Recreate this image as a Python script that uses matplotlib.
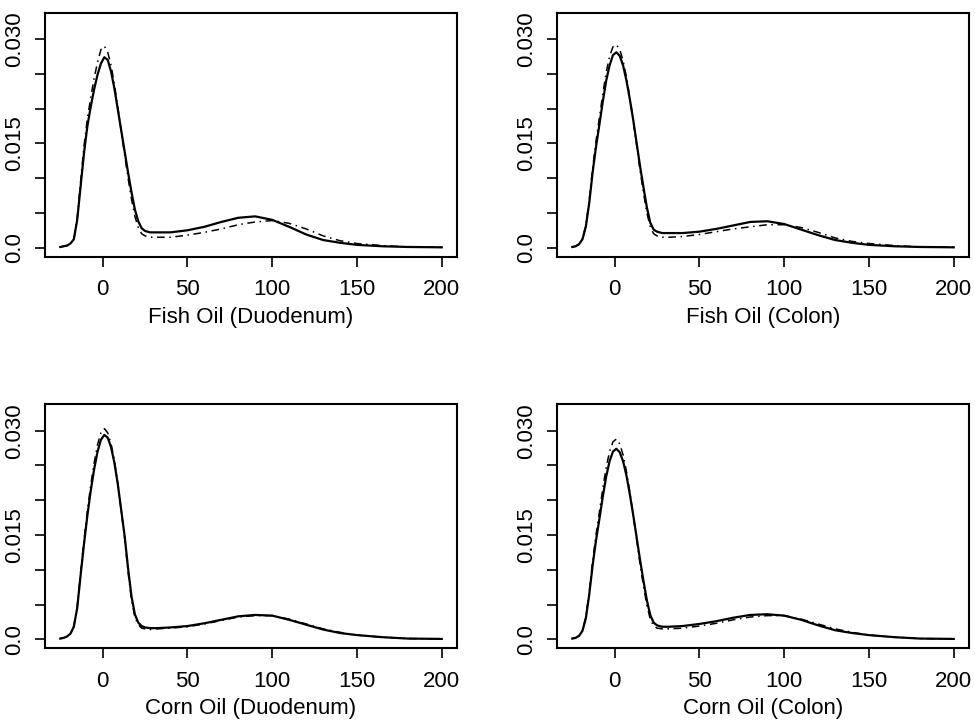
import matplotlib
matplotlib.use("Agg")
import matplotlib.pyplot as plt
from matplotlib.ticker import FixedLocator, FixedFormatter

plt.rcParams["font.family"] = ["Liberation Sans", "DejaVu Sans"]

x = [-25, -23, -21, -19, -17, -15, -13, -11, -9, -7, -5, -3, -1, 1, 3, 5, 7, 9, 11, 13,
     15, 17, 19, 21, 23, 25, 28, 32, 40, 50, 60, 70, 80, 90, 100, 110, 120, 130, 140,
     150, 165, 180, 200]

# Fish Oil (Duodenum)
fod_solid = [0.0001, 0.0002, 0.0003, 0.0006, 0.0012, 0.0040, 0.0088, 0.0136, 0.0175, 0.0203,
             0.0228, 0.0249, 0.0265, 0.0274, 0.0270, 0.0253, 0.0228, 0.0198, 0.0168, 0.0138,
             0.0108, 0.0080, 0.0055, 0.0038, 0.0028, 0.0024, 0.0022, 0.0022, 0.0022, 0.0025,
             0.0030, 0.0037, 0.0043, 0.0045, 0.0040, 0.0030, 0.0019, 0.0011, 0.0007, 0.0004,
             0.0002, 0.0001, 0.00005]
fod_dash = [0.0001, 0.0002, 0.0003, 0.0006, 0.0011, 0.0043, 0.0095, 0.0146, 0.0186, 0.0216,
            0.0244, 0.0267, 0.0285, 0.0290, 0.0281, 0.0262, 0.0234, 0.0201, 0.0167, 0.0133,
            0.0100, 0.0070, 0.0045, 0.0029, 0.0020, 0.0017, 0.0015, 0.0015, 0.0015, 0.0018,
            0.0022, 0.0027, 0.0033, 0.0037, 0.0039, 0.0035, 0.0027, 0.0017, 0.0010, 0.0006,
            0.0003, 0.0001, 0.00005]

# Fish Oil (Colon)
foc_solid = [0.0001, 0.0002, 0.0005, 0.0012, 0.0030, 0.0064, 0.0108, 0.0145, 0.0177, 0.0210,
             0.0240, 0.0262, 0.0277, 0.0281, 0.0276, 0.0262, 0.0240, 0.0213, 0.0183, 0.0150,
             0.0117, 0.0087, 0.0058, 0.0036, 0.0026, 0.0023, 0.0021, 0.0021, 0.0021, 0.0023,
             0.0027, 0.0032, 0.0037, 0.0038, 0.0034, 0.0026, 0.0018, 0.0011, 0.0007, 0.0004,
             0.0002, 0.0001, 0.00005]
foc_dash = [0.0001, 0.0002, 0.0005, 0.0013, 0.0032, 0.0068, 0.0114, 0.0153, 0.0187, 0.0221,
            0.0252, 0.0275, 0.0289, 0.0292, 0.0285, 0.0269, 0.0245, 0.0215, 0.0182, 0.0147,
            0.0111, 0.0079, 0.0050, 0.0030, 0.0020, 0.0017, 0.0015, 0.0015, 0.0016, 0.0019,
            0.0023, 0.0027, 0.0030, 0.0033, 0.0033, 0.0029, 0.0022, 0.0014, 0.0009, 0.0006,
            0.0003, 0.0001, 0.00005]

# Corn Oil (Duodenum)
cod_solid = [0.0001, 0.0002, 0.0004, 0.0008, 0.0018, 0.0045, 0.0092, 0.0137, 0.0178, 0.0214,
             0.0245, 0.0270, 0.0287, 0.0294, 0.0290, 0.0276, 0.0253, 0.0222, 0.0185, 0.0148,
             0.0102, 0.0062, 0.0036, 0.0024, 0.0019, 0.0017, 0.0016, 0.0016, 0.0017, 0.0019,
             0.0023, 0.0028, 0.0033, 0.0035, 0.0034, 0.0028, 0.0021, 0.0014, 0.0009, 0.0006,
             0.0003, 0.0001, 0.00005]
cod_dash = [0.0001, 0.0002, 0.0004, 0.0008, 0.0019, 0.0047, 0.0096, 0.0143, 0.0185, 0.0222,
            0.0254, 0.0280, 0.0297, 0.0303, 0.0297, 0.0281, 0.0256, 0.0223, 0.0184, 0.0145,
            0.0097, 0.0057, 0.0032, 0.0021, 0.0016, 0.0015, 0.0014, 0.0015, 0.0016, 0.0018,
            0.0022, 0.0027, 0.0032, 0.0034, 0.0034, 0.0029, 0.0022, 0.0015, 0.0010, 0.0006,
            0.0003, 0.0001, 0.00005]

# Corn Oil (Colon)
coc_solid = [0.0001, 0.0002, 0.0005, 0.0012, 0.0030, 0.0064, 0.0106, 0.0142, 0.0173, 0.0205,
             0.0234, 0.0256, 0.0270, 0.0274, 0.0269, 0.0256, 0.0235, 0.0208, 0.0178, 0.0146,
             0.0114, 0.0084, 0.0056, 0.0035, 0.0024, 0.0020, 0.0018, 0.0018, 0.0019, 0.0022,
             0.0026, 0.0031, 0.0035, 0.0036, 0.0034, 0.0028, 0.0020, 0.0013, 0.0009, 0.0006,
             0.0003, 0.0001, 0.00005]
coc_dash = [0.0001, 0.0002, 0.0005, 0.0013, 0.0032, 0.0068, 0.0112, 0.0150, 0.0183, 0.0217,
            0.0247, 0.0270, 0.0284, 0.0288, 0.0281, 0.0265, 0.0241, 0.0211, 0.0178, 0.0143,
            0.0108, 0.0077, 0.0049, 0.0029, 0.0019, 0.0016, 0.0015, 0.0015, 0.0016, 0.0019,
            0.0023, 0.0028, 0.0032, 0.0034, 0.0034, 0.0029, 0.0022, 0.0015, 0.0010, 0.0006,
            0.0003, 0.0001, 0.00005]

titles = ["Fish Oil (Duodenum)", "Fish Oil (Colon)", "Corn Oil (Duodenum)", "Corn Oil (Colon)"]
solids = [fod_solid, foc_solid, cod_solid, coc_solid]
dashes = [fod_dash, foc_dash, cod_dash, coc_dash]

xticks = [0, 50, 100, 150, 200]
yticks = [0.0, 0.005, 0.010, 0.015, 0.020, 0.025, 0.030]
ytick_labels = ["0.0", "", "", "0.015", "", "", "0.030"]

W, H = 975, 723
fig = plt.figure(figsize=(W / 100, H / 100), dpi=100)

# axes boxes in pixels: (left, top, width, height)
boxes = [(45, 12.7, 412, 244), (557, 12.7, 412, 244),
         (45, 404.3, 412, 244), (557, 404.3, 412, 244)]

for i in range(4):
    l, t, w, h = boxes[i]
    ax = fig.add_axes([l / W, 1 - (t + h) / H, w / W, h / H])
    ax.plot(x, solids[i], color="black", lw=1.6, solid_joinstyle="round")
    ax.plot(x, dashes[i], color="black", lw=1.1, dashes=(5, 3, 1, 3))
    ax.set_xlim(-34, 209)
    ax.set_ylim(-0.0013, 0.0338)
    ax.xaxis.set_major_locator(FixedLocator(xticks))
    ax.yaxis.set_major_locator(FixedLocator(yticks))
    ax.yaxis.set_major_formatter(FixedFormatter(ytick_labels))
    ax.set_xticklabels([str(v) for v in xticks])
    ax.tick_params(axis="both", direction="out", length=7, width=1.2,
                   labelsize=16, colors="black")
    ax.tick_params(axis="x", pad=9)
    ax.tick_params(axis="y", pad=7)
    for lab in ax.get_yticklabels():
        lab.set_rotation(90)
        lab.set_va("center")
    for sp in ax.spines.values():
        sp.set_linewidth(1.5)
    ax.set_xlabel(titles[i], fontsize=16, labelpad=5)

plt.savefig("out.png", dpi=100)
plt.close()
